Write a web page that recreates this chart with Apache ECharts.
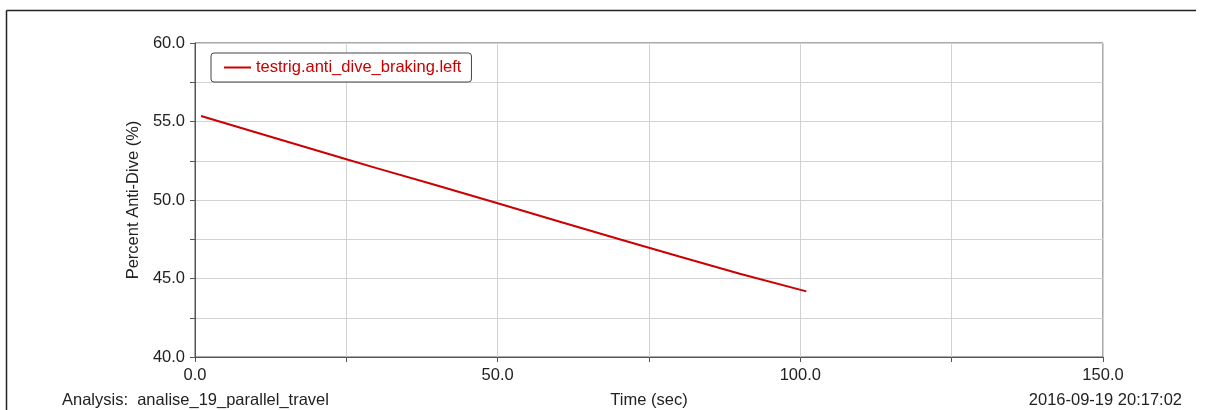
<!DOCTYPE html>
<html>
<head>
<meta charset="utf-8">
<script src="https://cdn.jsdelivr.net/npm/echarts@6/dist/echarts.min.js"></script>
<style>
html,body{margin:0;padding:0;background:#fff;}
#chart{width:1206px;height:410px;}
</style>
</head>
<body>
<div id="chart"></div>
<script>
// Data
const seriesName = 'testrig.anti_dive_braking.left';
const times = [1, 10, 20, 25, 30, 40, 50, 60, 70, 75, 80, 90, 101];
const antiDive = [55.35, 54.32, 53.17, 52.60, 52.03, 50.92, 49.79, 48.65, 47.52, 46.96, 46.40, 45.30, 44.18];
const xTitle = 'Time (sec)';
const yTitle = 'Percent Anti-Dive (%)';
const analysisText = 'Analysis:  analise_19_parallel_travel';
const stampText = '2016-09-19 20:17:02';

const FONT = "'Liberation Sans', Arial, sans-serif";
const FS = 16.5;
const TXT = '#222';
const RED = '#cc0000';

const chart = echarts.init(document.getElementById('chart'), null, {renderer: 'canvas'});
chart.setOption({
  animation: false,
  backgroundColor: '#fff',
  textStyle: {fontFamily: FONT},
  grid: {left: 195, top: 43, width: 908, height: 314, containLabel: false, outerBoundsMode: 'none',
    show: true, borderColor: '#555', borderWidth: 1, backgroundColor: 'transparent'},
  legend: {
    show: true,
    left: 211, top: 53,
    orient: 'vertical',
    padding: [6, 10, 6, 13],
    icon: 'rect',
    itemWidth: 27, itemHeight: 2,
    borderColor: '#444', borderWidth: 1, borderRadius: 3,
    backgroundColor: '#fff',
    itemStyle: {color: RED},
    textStyle: {color: RED, fontSize: FS, fontFamily: FONT, lineHeight: 17},
    data: [seriesName]
  },
  xAxis: {
    type: 'value', min: 0, max: 150, interval: 25,
    name: xTitle, nameLocation: 'middle', nameGap: 35,
    nameTextStyle: {color: TXT, fontSize: FS, fontFamily: FONT},
    axisLine: {show: true, onZero: false, lineStyle: {color: '#555', width: 1}},
    axisTick: {show: true, length: 5, lineStyle: {color: '#555'}},
    splitLine: {show: true, lineStyle: {color: '#d2d2d2', width: 1}},
    axisLabel: {color: TXT, fontSize: FS, fontFamily: FONT, margin: 10, showMinLabel: true, showMaxLabel: true,
      formatter: v => (v % 50 === 0 ? v.toFixed(1) : '')}
  },
  yAxis: {
    type: 'value', min: 40, max: 60, interval: 2.5,
    name: yTitle, nameLocation: 'middle', nameGap: 53,
    nameTextStyle: {color: TXT, fontSize: FS, fontFamily: FONT},
    axisLine: {show: true, onZero: false, lineStyle: {color: '#555', width: 1}},
    axisTick: {show: true, length: 5, lineStyle: {color: '#555'}},
    splitLine: {show: true, lineStyle: {color: '#d2d2d2', width: 1}},
    axisLabel: {color: TXT, fontSize: FS, fontFamily: FONT, margin: 10,
      formatter: v => (v % 5 === 0 ? v.toFixed(1) : '')}
  },
  series: [{
    name: seriesName,
    type: 'line',
    data: times.map((t, i) => [t, antiDive[i]]),
    symbol: 'none',
    lineStyle: {color: RED, width: 2},
    itemStyle: {color: RED}
  }],
  graphic: [
    {type: 'line', shape: {x1: 6.5, y1: 10.5, x2: 1196, y2: 10.5}, style: {stroke: '#222', lineWidth: 1.5}, silent: true},
    {type: 'line', shape: {x1: 6.5, y1: 10.5, x2: 6.5, y2: 410}, style: {stroke: '#222', lineWidth: 1.5}, silent: true},
    {type: 'text', left: 62, top: 392, style: {text: analysisText, fill: TXT, font: FS + 'px ' + FONT}},
    {type: 'text', right: 24, top: 392, style: {text: stampText, fill: TXT, font: FS + 'px ' + FONT}}
  ]
});
</script>
</body>
</html>
